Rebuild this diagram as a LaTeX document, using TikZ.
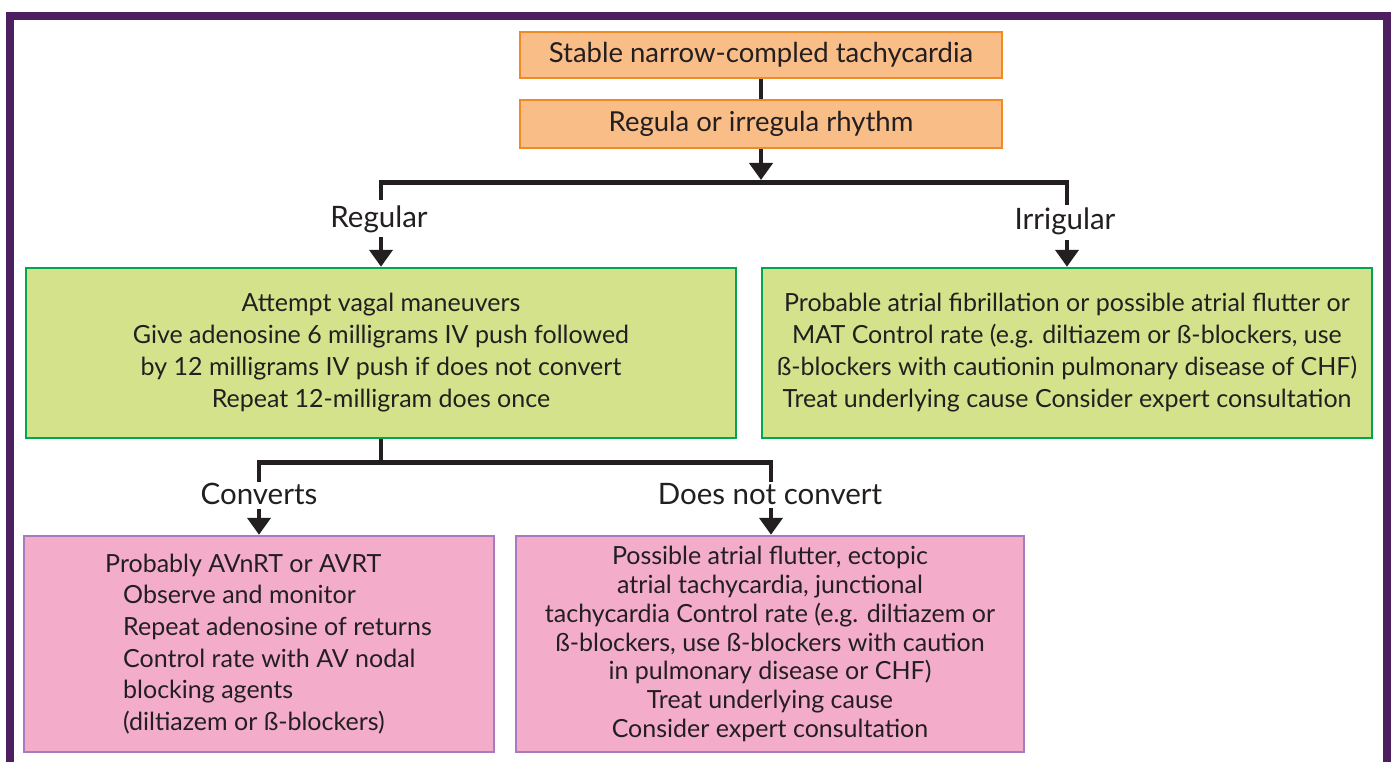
\documentclass[tikz,border=0pt]{standalone}
\usepackage{fontspec}
\setmainfont{Lato}
\usetikzlibrary{arrows.meta}
\definecolor{framec}{HTML}{4E1F60}
\definecolor{orfill}{HTML}{F9BD87}
\definecolor{ordraw}{HTML}{F08A24}
\definecolor{grfill}{HTML}{D4E28B}
\definecolor{grdraw}{HTML}{00A651}
\definecolor{pkfill}{HTML}{F4ACCB}
\definecolor{pkdraw}{HTML}{A87BC0}
\definecolor{ink}{HTML}{231F20}
\begin{document}
\begin{tikzpicture}[x=1pt,y=-1pt,
  every node/.style={text=ink,font=\fontsize{25}{32}\selectfont},
  obox/.style={draw=ordraw,fill=orfill,line width=2.5pt,minimum width=482pt,inner sep=0pt,font=\fontsize{27.5}{32}\selectfont},
  gbox/.style={draw=grdraw,fill=grfill,line width=2.5pt,inner sep=0pt,align=center,minimum height=170pt},
  pbox/.style={draw=pkdraw,fill=pkfill,line width=2.5pt,inner sep=0pt,minimum height=216pt},
  conn/.style={draw=ink,line width=4.5pt},
  arr/.style={conn,-{Triangle[length=17pt,width=23pt]}},
  lbl/.style={inner sep=0pt,font=\fontsize{29.5}{32}\selectfont}
]
\useasboundingbox (0,0) rectangle (1394,762);
\fill[white] (0,0) rectangle (1394,762);
% frame
\coordinate (f1) at (10,770);
\coordinate (f2) at (10,16);
\coordinate (f3) at (1387,16);
\coordinate (f4) at (1387,770);
\draw[framec,line width=8pt] (f1) -- (f2) -- (f3) -- (f4);

% top boxes
\node[obox,minimum height=46pt] (b1) at (761,55) {Stable narrow-compled tachycardia};
\node[obox,minimum height=48pt] (b2) at (761,124) {Regula or irregula rhythm};

% green boxes
\node[gbox,minimum width=710pt] (gl) at (381,353) {Attempt vagal maneuvers\\
Give adenosine 6 milligrams IV push followed\\
by 12 milligrams IV push if does not convert\\
Repeat 12-milligram does once};
\node[gbox,minimum width=610pt] (gr) at (1067,353) {Probable atrial fibrillation or possible atrial flutter or\\
MAT Control rate (e.g. diltiazem or ß-blockers, use\\
ß-blockers with cautionin pulmonary disease of CHF)\\
Treat underlying cause Consider expert consultation};

% pink boxes
\node[pbox,minimum width=470pt] (pl) at (259,644) {};
\node[align=left,anchor=west,inner sep=0pt,font=\fontsize{25}{31.6}\selectfont] (plt) at (105,644) {Probably AVnRT or AVRT\\
\hspace*{18pt}Observe and monitor\\
\hspace*{18pt}Repeat adenosine of returns\\
\hspace*{18pt}Control rate with AV nodal\\
\hspace*{18pt}blocking agents\\
\hspace*{18pt}(diltiazem or ß-blockers)};
\node[pbox,align=center,minimum width=508pt,font=\fontsize{25}{28.7}\selectfont] (pr) at (770,644) {Possible atrial flutter, ectopic\\
atrial tachycardia, junctional\\
tachycardia Control rate (e.g. diltiazem or\\
ß-blockers, use ß-blockers with caution\\
in pulmonary disease or CHF)\\
Treat underlying cause\\
Consider expert consultation};

% labels
\node[lbl] (lreg) at (379,219) {Regular};
\node[lbl] (lirr) at (1065,221) {Irrigular};
\node[lbl] (lcon) at (259,494) {Converts};
\node[lbl] (lnot) at (770,494) {Does not convert};

% connectors
\draw[conn] (b1) -- (b2);
\coordinate (j1) at (761,180);
\draw[arr] (b2) -- (j1);
\coordinate (jl) at (381,182.5);
\coordinate (jr) at (1067,182.5);
\coordinate (jle) at (381,200);
\coordinate (jre) at (1067,205);
\draw[conn] (jle) -- (jl) -- (jr) -- (jre);
\coordinate (al) at (381,237);
\coordinate (ar) at (1067,240);
\draw[arr] (al) -- (gl.north);
\draw[arr] (ar) -- (gr.north);

\coordinate (k0) at (381,462.5);
\coordinate (kl) at (259,462.5);
\coordinate (kr) at (771,462.5);
\coordinate (kle) at (259,482);
\coordinate (kre) at (771,482);
\draw[conn] (gl.south) -- (k0);
\draw[conn] (kle) -- (kl) -- (kr) -- (kre);
\coordinate (cl) at (259,509);
\coordinate (cr) at (771,508);
\draw[arr] (cl) -- (pl.north);
\draw[arr] (cr) -- (pr.north -| cr);
\end{tikzpicture}
\end{document}
